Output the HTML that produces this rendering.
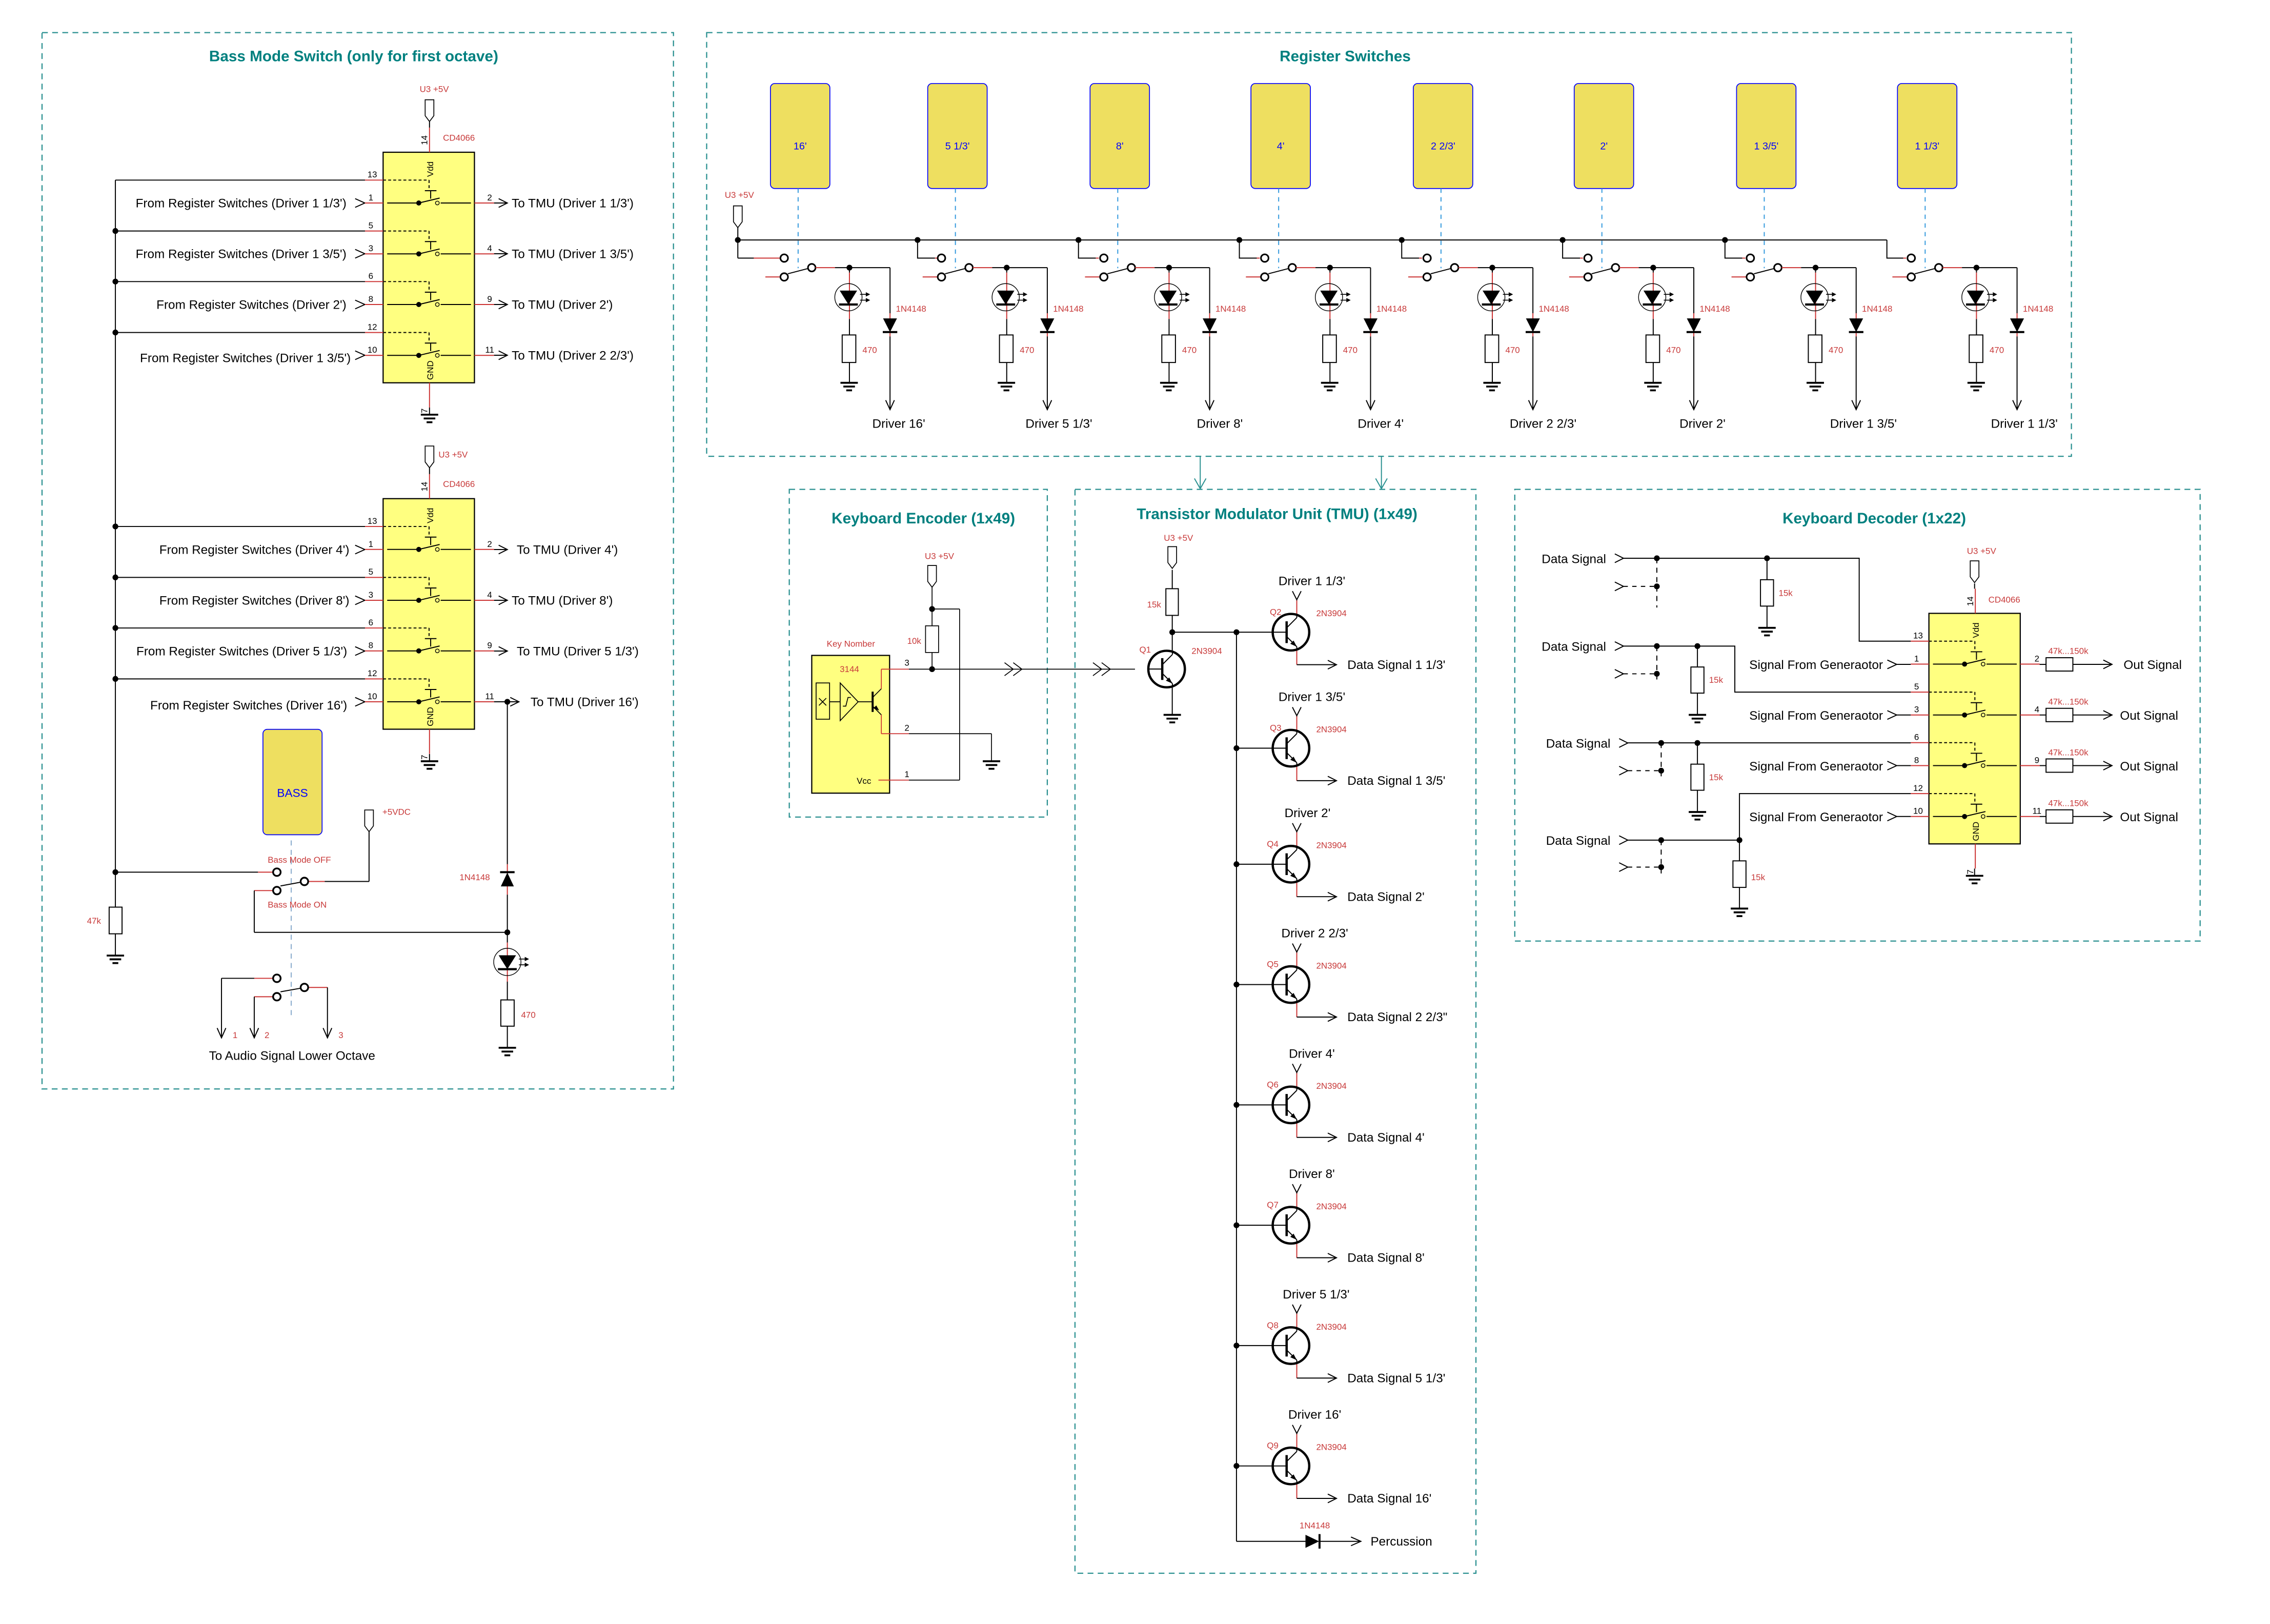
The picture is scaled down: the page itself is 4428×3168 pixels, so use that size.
<!DOCTYPE html>
<html><head><meta charset="utf-8"><style>
html,body{margin:0;padding:0;background:#fff}
svg{display:block}
text{font-family:"Liberation Sans",sans-serif}
.r{stroke:#cc3333}
.red{fill:#c83a3a}
.ttl{fill:#00807f;font-weight:bold;font-size:10.5px}
.lb{font-size:8.6px;fill:#000}
.sm{font-size:6px;fill:#c83a3a}
.pn{font-size:6px;fill:#000}
.box{fill:none;stroke:#2a9090;stroke-width:.8;stroke-dasharray:4,3}
</style></head><body>
<svg width="4428" height="3168" viewBox="0 0 1566 1120" preserveAspectRatio="none" xmlns="http://www.w3.org/2000/svg">
<defs>
<g id="gnd" stroke="#000" stroke-width="1.3"><line x1="-6" y1="0" x2="6" y2="0"/><line x1="-4" y1="2.6" x2="4" y2="2.6"/><line x1="-2" y1="5.2" x2="2" y2="5.2"/></g>
<path id="vcc" d="M-3,0H3V11L0,15L-3,11Z" fill="#fff" stroke="#000" stroke-width=".6"/>
<circle id="dot" r="2" fill="#000"/>
<g id="sw" stroke="#000" stroke-width=".7" fill="none">
 <line x1="0" y1="0" x2="31.7" y2="0" stroke-dasharray="2,1.5"/>
 <line x1="31.7" y1="0" x2="31.7" y2="7.3" stroke-dasharray="2,1.5"/>
 <line x1="28.8" y1="7.3" x2="36.8" y2="7.3"/>
 <line x1="32.8" y1="7.3" x2="32.8" y2="12.8"/>
 <line x1="2.8" y1="15.8" x2="24.6" y2="15.8"/>
 <circle cx="24.6" cy="15.8" r="1.4" fill="#000"/>
 <line x1="24.6" y1="15.8" x2="39" y2="12.4"/>
 <circle cx="37.4" cy="15.8" r="1.3" stroke-width=".5"/>
 <line x1="39.7" y1="15.8" x2="60.6" y2="15.8"/>
 <line class="r" x1="-12.5" y1="0" x2="0" y2="0"/>
 <line class="r" x1="-12.5" y1="15.8" x2="0" y2="15.8"/>
 <line class="r" x1="63" y1="15.8" x2="76.5" y2="15.8"/>
</g>
<g id="chip">
 <rect x="0" y="0" width="63" height="159" fill="#ffff80" stroke="#000" stroke-width=".8"/>
 <line class="r" x1="32" y1="-17" x2="32" y2="0" stroke-width=".7"/>
 <line class="r" x1="32" y1="159" x2="32" y2="176" stroke-width=".7"/>
 <use href="#sw" y="19.2"/><use href="#sw" y="54.3"/><use href="#sw" y="89.2"/><use href="#sw" y="124.3"/>
</g>
<g id="q" stroke="#000" fill="none">
 <circle r="12.6" stroke-width="1.6"/>
 <line x1="-3" y1="-7.5" x2="-3" y2="7.5" stroke-width="1.6"/>
 <line x1="-3" y1="-3" x2="4" y2="-10" stroke-width=".7"/>
 <line x1="-3" y1="3" x2="4" y2="10" stroke-width=".7"/>
 <polygon points="4,10 -0.5,8 1.8,5.8" fill="#000" stroke="none"/>
 <line x1="-12.6" y1="0" x2="-3" y2="0" stroke-width=".7"/>
 <line x1="4" y1="-10" x2="4" y2="-12.6" stroke-width=".7"/>
 <line x1="4" y1="10" x2="4" y2="12.6" stroke-width=".7"/>
</g>
<g id="led">
 <circle r="9.4" fill="none" stroke="#000" stroke-width=".5"/>
 <polygon points="-6,-4.6 6,-4.6 0,5" fill="#000"/>
 <line x1="-6.5" y1="5" x2="6.5" y2="5" stroke="#000" stroke-width="1.5"/>
 <g stroke="#000" stroke-width=".6"><line x1="8" y1="-2" x2="13" y2="-2"/><line x1="8" y1="2" x2="13" y2="2"/></g>
 <polygon points="12,-3.5 15,-2 12,-0.5" fill="#000"/><polygon points="12,0.5 15,2 12,3.5" fill="#000"/>
</g>
<g id="ru" stroke="#000" stroke-width=".7" fill="none">
 <rect x="531.5" y="57.6" width="41" height="72.4" rx="3" fill="#eedf60" stroke="#0000ff" stroke-width=".6"/>
 <line x1="550.6" y1="130" x2="550.6" y2="185" stroke="#3399dd" stroke-dasharray="3,3"/>
 <line class="r" x1="528" y1="191" x2="538.5" y2="191"/>
 <circle cx="541" cy="178" r="2.6" fill="#fff" stroke-width="1.1"/>
 <circle cx="541" cy="191" r="2.6" fill="#fff" stroke-width="1.1"/>
 <circle cx="560" cy="184.6" r="2.6" fill="#fff" stroke-width="1.1"/>
 <line x1="543.5" y1="188.8" x2="557.4" y2="185.2"/>
 <line class="r" x1="562.6" y1="184.6" x2="576" y2="184.6"/>
 <line x1="576" y1="184.6" x2="614" y2="184.6"/>
 <circle cx="586" cy="184.6" r="2" fill="#000" stroke="none"/>
 <line x1="614" y1="184.6" x2="614" y2="216"/>
 <line class="r" x1="614" y1="216" x2="614" y2="232"/>
 <line x1="614" y1="232" x2="614" y2="282.5"/>
 <polyline points="611,276 614,282.5 617,276"/>
 <polygon points="609.2,219.6 618.8,219.6 614,229" fill="#000" stroke="none"/>
 <line x1="609" y1="229" x2="619" y2="229" stroke-width="1.4"/>
 <line x1="586" y1="184.6" x2="586" y2="188"/>
 <line class="r" x1="586" y1="188" x2="586" y2="220"/>
 <line x1="586" y1="220" x2="586" y2="231"/>
 <rect x="581" y="231" width="9.4" height="19" fill="#fff"/>
 <line x1="586" y1="250" x2="586" y2="264"/>
</g>
</defs>

<!-- section boxes -->
<rect class="box" x="29" y="22.5" width="435.6" height="728.5"/>
<rect class="box" x="487.5" y="22.5" width="941.5" height="292.2"/>
<rect class="box" x="544.5" y="337.5" width="178" height="226"/>
<rect class="box" x="741.6" y="337.5" width="276.6" height="747.5"/>
<rect class="box" x="1045" y="337.5" width="472.8" height="311.5"/>
<g stroke="#2a9090" stroke-width=".7" fill="none">
<line x1="828" y1="315" x2="828" y2="337"/><polyline points="824,330 828,337 832,330"/>
<line x1="953" y1="315" x2="953" y2="337"/><polyline points="949,330 953,337 957,330"/>
</g>

<!-- titles -->
<text class="ttl" x="244" y="42.3" text-anchor="middle">Bass Mode Switch (only for first octave)</text>
<text class="ttl" x="928" y="42.3" text-anchor="middle">Register Switches</text>
<text class="ttl" x="637" y="361" text-anchor="middle">Keyboard Encoder (1x49)</text>
<text class="ttl" x="881" y="358" text-anchor="middle">Transistor Modulator Unit (TMU) (1x49)</text>
<text class="ttl" x="1293" y="361" text-anchor="middle">Keyboard Decoder (1x22)</text>

<!-- ===== BASS SECTION ===== -->
<g stroke="#000" stroke-width=".7" fill="none">
 <line x1="79.6" y1="124.2" x2="79.6" y2="625.6"/>
 <line x1="79.6" y1="124.2" x2="251.8" y2="124.2"/>
 <line x1="79.6" y1="159.3" x2="251.8" y2="159.3"/>
 <line x1="79.6" y1="194.2" x2="251.8" y2="194.2"/>
 <line x1="79.6" y1="229.3" x2="251.8" y2="229.3"/>
 <line x1="79.6" y1="363.1" x2="251.8" y2="363.1"/>
 <line x1="79.6" y1="398.2" x2="251.8" y2="398.2"/>
 <line x1="79.6" y1="433.1" x2="251.8" y2="433.1"/>
 <line x1="79.6" y1="468.2" x2="251.8" y2="468.2"/>
 <polyline points="245,137 251.7,140 245,143"/>
 <polyline points="245,172 251.7,175 245,178"/>
 <polyline points="245,207 251.7,210 245,213"/>
 <polyline points="245,242 251.7,245 245,248"/>
 <polyline points="245,376 251.7,379 245,382"/>
 <polyline points="245,411 251.7,414 245,417"/>
 <polyline points="245,446 251.7,449 245,452"/>
 <polyline points="245,481 251.7,484 245,487"/>
 <line x1="340.8" y1="140" x2="350" y2="140"/><polyline points="344,137 350,140 344,143"/>
 <line x1="340.8" y1="175" x2="350" y2="175"/><polyline points="344,172 350,175 344,178"/>
 <line x1="340.8" y1="210" x2="350" y2="210"/><polyline points="344,207 350,210 344,213"/>
 <line x1="340.8" y1="245" x2="350" y2="245"/><polyline points="344,242 350,245 344,248"/>
 <line x1="340.8" y1="379" x2="350" y2="379"/><polyline points="344,376 350,379 344,382"/>
 <line x1="340.8" y1="414" x2="350" y2="414"/><polyline points="344,411 350,414 344,417"/>
 <line x1="340.8" y1="449" x2="350" y2="449"/><polyline points="344,446 350,449 344,452"/>
 <line x1="340.8" y1="484" x2="358" y2="484"/><polyline points="352,481 358,484 352,487"/>
 <line x1="296.3" y1="84" x2="296.3" y2="88"/>
 <line x1="296.3" y1="281" x2="296.3" y2="286"/>
 <line x1="296.3" y1="322.6" x2="296.3" y2="327"/>
 <line x1="296.3" y1="520" x2="296.3" y2="525"/>
 <line x1="350" y1="484" x2="350" y2="596"/>
 <line class="r" x1="350" y1="596" x2="350" y2="617"/>
 <line x1="350" y1="617" x2="350" y2="650"/>
 <line class="r" x1="350" y1="650" x2="350" y2="677"/>
 <line x1="350" y1="677" x2="350" y2="689.6"/>
 <rect x="345.5" y="689.6" width="9.2" height="18.1" fill="#fff"/>
 <line x1="350" y1="707.7" x2="350" y2="722.6"/>
 <rect x="75.3" y="625.6" width="8.9" height="18.4" fill="#fff"/>
 <line x1="79.6" y1="644" x2="79.6" y2="659"/>
 <line x1="79.6" y1="601.5" x2="178" y2="601.5"/>
 <line class="r" x1="178" y1="601.5" x2="188.4" y2="601.5"/>
 <line class="r" x1="175.4" y1="614.2" x2="188.4" y2="614.2"/>
 <line x1="175.4" y1="614.2" x2="175.4" y2="643"/>
 <line x1="175.4" y1="643" x2="350" y2="643"/>
 <line x1="193.5" y1="611" x2="207.5" y2="608.4"/>
 <line class="r" x1="212.6" y1="607.9" x2="224" y2="607.9"/>
 <line x1="224" y1="607.9" x2="254.6" y2="607.9"/>
 <line x1="254.6" y1="607.9" x2="254.6" y2="573.7"/>
 <circle cx="191" cy="601.5" r="2.6" fill="#fff" stroke-width="1.2"/>
 <circle cx="191" cy="614.2" r="2.6" fill="#fff" stroke-width="1.2"/>
 <circle cx="210" cy="607.9" r="2.6" fill="#fff" stroke-width="1.2"/>
 <line class="r" x1="175.4" y1="674.7" x2="188.4" y2="674.7"/>
 <line x1="152.8" y1="674.7" x2="175.4" y2="674.7"/>
 <line x1="152.8" y1="674.7" x2="152.8" y2="715.7"/>
 <polyline points="149.8,709 152.8,715.7 155.8,709"/>
 <line class="r" x1="175.4" y1="687.4" x2="188.4" y2="687.4"/>
 <line x1="175.4" y1="687.4" x2="175.4" y2="715.7"/>
 <polyline points="172.4,709 175.4,715.7 178.4,709"/>
 <line x1="193.5" y1="684" x2="207.5" y2="681.5"/>
 <line class="r" x1="212.6" y1="681" x2="225.9" y2="681"/>
 <line x1="225.9" y1="681" x2="225.9" y2="715.7"/>
 <polyline points="222.9,709 225.9,715.7 228.9,709"/>
 <circle cx="191" cy="674.7" r="2.6" fill="#fff" stroke-width="1.2"/>
 <circle cx="191" cy="687.4" r="2.6" fill="#fff" stroke-width="1.2"/>
 <circle cx="210" cy="681" r="2.6" fill="#fff" stroke-width="1.2"/>
 <line x1="200.9" y1="579.6" x2="200.9" y2="703" stroke="#88aacc" stroke-dasharray="3.5,3"/>
</g>
<rect x="181.4" y="503" width="40.8" height="72.7" rx="3" fill="#eedf60" stroke="#0000ff" stroke-width=".6"/>
<text x="201.8" y="549.5" text-anchor="middle" style="font-size:8px;fill:#0000ff">BASS</text>
<use href="#vcc" x="254.6" y="558.6"/>
<text class="sm" x="263.8" y="562">+5VDC</text>
<text class="sm" x="184.7" y="595">Bass Mode OFF</text>
<text class="sm" x="184.7" y="626">Bass Mode ON</text>
<text class="sm" x="160.5" y="716">1</text>
<text class="sm" x="182.5" y="716">2</text>
<text class="sm" x="233.5" y="716">3</text>
<text class="lb" x="201.5" y="731" text-anchor="middle">To Audio Signal Lower Octave</text>
<use href="#dot" x="79.6" y="159.3"/><use href="#dot" x="79.6" y="194.2"/><use href="#dot" x="79.6" y="229.3"/>
<use href="#dot" x="79.6" y="363.1"/><use href="#dot" x="79.6" y="398.2"/><use href="#dot" x="79.6" y="433.1"/><use href="#dot" x="79.6" y="468.2"/>
<use href="#dot" x="79.6" y="601.5"/><use href="#dot" x="350" y="484"/><use href="#dot" x="350" y="643"/>
<use href="#gnd" x="79.6" y="659"/><use href="#gnd" x="350" y="722.6"/>
<use href="#gnd" x="296.3" y="286"/><use href="#gnd" x="296.3" y="525"/>
<polygon points="345.5,611.3 354.5,611.3 350,601.8" fill="#000"/>
<line x1="345" y1="601.5" x2="355" y2="601.5" stroke="#000" stroke-width="1.4"/>
<text class="sm" x="338" y="607" text-anchor="end">1N4148</text>
<use href="#led" x="350" y="663.4"/>
<text class="sm" x="359.5" y="702">470</text>
<text class="sm" x="60" y="637">47k</text>

<!-- chip 1 -->
<use href="#vcc" x="296.3" y="68.8"/>
<text class="sm" x="289.5" y="63.5">U3 +5V</text>
<g transform="translate(264.3,105)">
 <use href="#chip"/>
 <text class="sm" x="41.3" y="-8">CD4066</text>
 <text class="pn" transform="translate(30.5,-5) rotate(-90)">14</text>
 <text class="pn" transform="translate(34.5,17) rotate(-90)">Vdd</text>
 <text class="pn" transform="translate(34.5,157) rotate(-90)">GND</text>
 <text class="pn" transform="translate(30.5,180) rotate(-90)">7</text>
 <text class="pn" x="-7.5" y="17.4" text-anchor="middle">13</text>
 <text class="pn" x="-8.5" y="33.3" text-anchor="middle">1</text>
 <text class="pn" x="-8.5" y="52.5" text-anchor="middle">5</text>
 <text class="pn" x="-8.5" y="68.3" text-anchor="middle">3</text>
 <text class="pn" x="-8.5" y="87.4" text-anchor="middle">6</text>
 <text class="pn" x="-8.5" y="103.2" text-anchor="middle">8</text>
 <text class="pn" x="-7.5" y="122.5" text-anchor="middle">12</text>
 <text class="pn" x="-7.5" y="138.3" text-anchor="middle">10</text>
 <text class="pn" x="73.5" y="33.3" text-anchor="middle">2</text>
 <text class="pn" x="73.5" y="68.3" text-anchor="middle">4</text>
 <text class="pn" x="73.5" y="103.2" text-anchor="middle">9</text>
 <text class="pn" x="73.5" y="138.3" text-anchor="middle">11</text>
</g>
<text class="lb" x="239" y="143" text-anchor="end">From Register Switches (Driver 1 1/3')</text>
<text class="lb" x="239" y="178" text-anchor="end">From Register Switches (Driver 1 3/5')</text>
<text class="lb" x="239" y="213" text-anchor="end">From Register Switches (Driver 2')</text>
<text class="lb" x="242" y="249.8" text-anchor="end">From Register Switches (Driver 1 3/5')</text>
<text class="lb" x="353" y="143">To TMU (Driver 1 1/3')</text>
<text class="lb" x="353" y="178">To TMU (Driver 1 3/5')</text>
<text class="lb" x="353" y="213">To TMU (Driver 2')</text>
<text class="lb" x="353" y="248">To TMU (Driver 2 2/3')</text>

<!-- chip 2 -->
<use href="#vcc" x="296.3" y="307.6"/>
<text class="sm" x="302.5" y="315.5">U3 +5V</text>
<g transform="translate(264.3,343.9)">
 <use href="#chip"/>
 <text class="sm" x="41.3" y="-8">CD4066</text>
 <text class="pn" transform="translate(30.5,-5) rotate(-90)">14</text>
 <text class="pn" transform="translate(34.5,17) rotate(-90)">Vdd</text>
 <text class="pn" transform="translate(34.5,157) rotate(-90)">GND</text>
 <text class="pn" transform="translate(30.5,180) rotate(-90)">7</text>
 <text class="pn" x="-7.5" y="17.4" text-anchor="middle">13</text>
 <text class="pn" x="-8.5" y="33.3" text-anchor="middle">1</text>
 <text class="pn" x="-8.5" y="52.5" text-anchor="middle">5</text>
 <text class="pn" x="-8.5" y="68.3" text-anchor="middle">3</text>
 <text class="pn" x="-8.5" y="87.4" text-anchor="middle">6</text>
 <text class="pn" x="-8.5" y="103.2" text-anchor="middle">8</text>
 <text class="pn" x="-7.5" y="122.5" text-anchor="middle">12</text>
 <text class="pn" x="-7.5" y="138.3" text-anchor="middle">10</text>
 <text class="pn" x="73.5" y="33.3" text-anchor="middle">2</text>
 <text class="pn" x="73.5" y="68.3" text-anchor="middle">4</text>
 <text class="pn" x="73.5" y="103.2" text-anchor="middle">9</text>
 <text class="pn" x="73.5" y="138.3" text-anchor="middle">11</text>
</g>
<text class="lb" x="241" y="382" text-anchor="end">From Register Switches (Driver 4')</text>
<text class="lb" x="241" y="417" text-anchor="end">From Register Switches (Driver 8')</text>
<text class="lb" x="239.5" y="452" text-anchor="end">From Register Switches (Driver 5 1/3')</text>
<text class="lb" x="239.5" y="489.3" text-anchor="end">From Register Switches (Driver 16')</text>
<text class="lb" x="356.5" y="382">To TMU (Driver 4')</text>
<text class="lb" x="353" y="417">To TMU (Driver 8')</text>
<text class="lb" x="356.5" y="452">To TMU (Driver 5 1/3')</text>
<text class="lb" x="366" y="487">To TMU (Driver 16')</text>

<!-- ===== REGISTER SWITCHES ===== -->
<g stroke="#000" stroke-width=".7" fill="none">
 <line x1="509" y1="157" x2="509" y2="178"/>
 <line x1="509" y1="165.5" x2="1301.7" y2="165.5"/>
 <line x1="509" y1="178" x2="528" y2="178"/>
 <line class="r" x1="520" y1="178" x2="538.5" y2="178"/>
 <path d="M633,165.5V178H645M744,165.5V178H756M855,165.5V178H867M967,165.5V178H979M1078,165.5V178H1090M1190,165.5V178H1202M1301.7,165.5V178H1313"/>
 <g class="r"><line x1="645" y1="178" x2="647" y2="178"/><line x1="756" y1="178" x2="758" y2="178"/><line x1="867" y1="178" x2="869" y2="178"/><line x1="979" y1="178" x2="981" y2="178"/><line x1="1090" y1="178" x2="1092" y2="178"/><line x1="1202" y1="178" x2="1204" y2="178"/><line x1="1313" y1="178" x2="1315" y2="178"/></g>
</g>
<use href="#vcc" x="509" y="142"/>
<text class="sm" x="500" y="136.5">U3 +5V</text>
<use href="#dot" x="509" y="165.5"/><use href="#dot" x="633" y="165.5"/><use href="#dot" x="744" y="165.5"/><use href="#dot" x="855" y="165.5"/><use href="#dot" x="967" y="165.5"/><use href="#dot" x="1078" y="165.5"/><use href="#dot" x="1190" y="165.5"/>
<g><use href="#ru"/><use href="#led" x="585.3" y="205"/><use href="#gnd" x="585.8" y="264"/>
<text x="552" y="103" text-anchor="middle" style="font-size:7px;fill:#0000ff">16'</text>
<text class="sm" x="618" y="215">1N4148</text><text class="sm" x="595" y="243.5">470</text>
<text class="lb" x="620" y="295" text-anchor="middle">Driver 16'</text></g>
<g transform="translate(108.5,0)"><use href="#ru"/><use href="#led" x="585.3" y="205"/><use href="#gnd" x="585.8" y="264"/>
<text x="552" y="103" text-anchor="middle" style="font-size:7px;fill:#0000ff">5 1/3'</text>
<text class="sm" x="618" y="215">1N4148</text><text class="sm" x="595" y="243.5">470</text>
<text class="lb" x="622" y="295" text-anchor="middle">Driver 5 1/3'</text></g>
<g transform="translate(220.5,0)"><use href="#ru"/><use href="#led" x="585.3" y="205"/><use href="#gnd" x="585.8" y="264"/>
<text x="552" y="103" text-anchor="middle" style="font-size:7px;fill:#0000ff">8'</text>
<text class="sm" x="618" y="215">1N4148</text><text class="sm" x="595" y="243.5">470</text>
<text class="lb" x="621" y="295" text-anchor="middle">Driver 8'</text></g>
<g transform="translate(331.5,0)"><use href="#ru"/><use href="#led" x="585.3" y="205"/><use href="#gnd" x="585.8" y="264"/>
<text x="552" y="103" text-anchor="middle" style="font-size:7px;fill:#0000ff">4'</text>
<text class="sm" x="618" y="215">1N4148</text><text class="sm" x="595" y="243.5">470</text>
<text class="lb" x="621" y="295" text-anchor="middle">Driver 4'</text></g>
<g transform="translate(443.5,0)"><use href="#ru"/><use href="#led" x="585.3" y="205"/><use href="#gnd" x="585.8" y="264"/>
<text x="552" y="103" text-anchor="middle" style="font-size:7px;fill:#0000ff">2 2/3'</text>
<text class="sm" x="618" y="215">1N4148</text><text class="sm" x="595" y="243.5">470</text>
<text class="lb" x="621" y="295" text-anchor="middle">Driver 2 2/3'</text></g>
<g transform="translate(554.5,0)"><use href="#ru"/><use href="#led" x="585.3" y="205"/><use href="#gnd" x="585.8" y="264"/>
<text x="552" y="103" text-anchor="middle" style="font-size:7px;fill:#0000ff">2'</text>
<text class="sm" x="618" y="215">1N4148</text><text class="sm" x="595" y="243.5">470</text>
<text class="lb" x="620" y="295" text-anchor="middle">Driver 2'</text></g>
<g transform="translate(666.5,0)"><use href="#ru"/><use href="#led" x="585.3" y="205"/><use href="#gnd" x="585.8" y="264"/>
<text x="552" y="103" text-anchor="middle" style="font-size:7px;fill:#0000ff">1 3/5'</text>
<text class="sm" x="618" y="215">1N4148</text><text class="sm" x="595" y="243.5">470</text>
<text class="lb" x="619" y="295" text-anchor="middle">Driver 1 3/5'</text></g>
<g transform="translate(777.5,0)"><use href="#ru"/><use href="#led" x="585.3" y="205"/><use href="#gnd" x="585.8" y="264"/>
<text x="552" y="103" text-anchor="middle" style="font-size:7px;fill:#0000ff">1 1/3'</text>
<text class="sm" x="618" y="215">1N4148</text><text class="sm" x="595" y="243.5">470</text>
<text class="lb" x="619" y="295" text-anchor="middle">Driver 1 1/3'</text></g>

<!-- ===== KEYBOARD ENCODER ===== -->
<rect x="560" y="452" width="53.7" height="95" fill="#ffff80" stroke="#000" stroke-width=".8"/>
<text class="sm" x="587" y="446" text-anchor="middle">Key Nomber</text>
<text class="sm" x="586" y="463.5" text-anchor="middle">3144</text>
<g stroke="#000" stroke-width=".6" fill="none">
 <rect x="563" y="471" width="9.3" height="25"/>
 <line x1="565" y1="481.5" x2="570" y2="486.5"/><line x1="570" y1="481.5" x2="565" y2="486.5"/>
 <line x1="572.3" y1="484" x2="579.6" y2="484"/>
 <polygon points="579.6,471 579.6,497 592,484"/>
 <path d="M581.5,487H583.5L585,481H587"/>
 <line x1="592" y1="484" x2="602" y2="484"/>
 <line x1="602" y1="477" x2="602" y2="491" stroke-width="1.4"/>
 <line x1="602" y1="481" x2="608" y2="475"/>
 <line x1="602" y1="487" x2="608" y2="493"/>
 <line class="r" x1="608" y1="475" x2="608" y2="461.5"/>
 <line class="r" x1="608" y1="493" x2="608" y2="506"/>
 <line class="r" x1="608" y1="461.5" x2="627" y2="461.5"/>
 <line class="r" x1="608" y1="506" x2="627" y2="506"/>
 <line class="r" x1="606" y1="538" x2="627" y2="538"/>
 <line x1="627" y1="461.5" x2="783" y2="461.5"/>
 <polyline points="693,457 699,461.5 693,466"/><polyline points="699,457 705,461.5 699,466"/>
 <polyline points="754,457 760,461.5 754,466"/><polyline points="760,457 766,461.5 760,466"/>
 <line x1="627" y1="506" x2="684" y2="506"/><line x1="684" y1="506" x2="684" y2="525"/>
 <line x1="627" y1="538" x2="662" y2="538"/><line x1="662" y1="538" x2="662" y2="420"/><line x1="662" y1="420" x2="643" y2="420"/>
 <line x1="643" y1="405" x2="643" y2="431.6"/>
 <rect x="638.5" y="431.6" width="9" height="18.4" fill="#fff"/>
 <line x1="643" y1="450" x2="643" y2="461.5"/>
</g>
<polygon points="606.5,490 602.5,488.5 604.5,486.5" fill="#000"/>
<text class="pn" x="624" y="459">3</text><text class="pn" x="624" y="504">2</text><text class="pn" x="624" y="536">1</text>
<text class="pn" x="596" y="540.5" text-anchor="middle">Vcc</text>
<use href="#vcc" x="643" y="390"/>
<text class="sm" x="638" y="385.5">U3 +5V</text>
<text class="sm" x="635.5" y="444" text-anchor="end">10k</text>
<use href="#dot" x="643" y="420"/><use href="#dot" x="643" y="461.5"/>
<use href="#gnd" x="684" y="525"/>

<!-- ===== TMU ===== -->
<g stroke="#000" stroke-width=".7" fill="none">
 <line x1="808.7" y1="393" x2="808.7" y2="406"/>
 <rect x="804.3" y="406" width="8.6" height="18.4" fill="#fff"/>
 <line x1="808.7" y1="424.4" x2="808.7" y2="448.8"/>
 <line x1="808.7" y1="474" x2="808.7" y2="493"/>
 <line x1="808.7" y1="436" x2="878" y2="436"/>
 <line x1="853" y1="436" x2="853" y2="1063"/>
 <line x1="853" y1="1063" x2="900.6" y2="1063"/>
 <line x1="910.5" y1="1063" x2="938.8" y2="1063"/>
 <polyline points="932,1060 938.8,1063 932,1066"/>
</g>
<polygon points="900.6,1058.5 900.6,1067.5 910,1063" fill="#000"/>
<line x1="910.3" y1="1058" x2="910.3" y2="1068" stroke="#000" stroke-width="1.4"/>
<text class="sm" x="907" y="1054" text-anchor="middle">1N4148</text>
<text class="lb" x="945.5" y="1066">Percussion</text>
<use href="#vcc" x="808.7" y="377"/>
<text class="sm" x="813" y="373" text-anchor="middle">U3 +5V</text>
<text class="sm" x="801" y="419" text-anchor="end">15k</text>
<use href="#q" x="804.8" y="461.4"/>
<text class="sm" x="790" y="450" text-anchor="middle">Q1</text>
<text class="sm" x="822" y="451">2N3904</text>
<use href="#gnd" x="808.7" y="493"/>
<use href="#dot" x="808.7" y="436"/>

<g stroke="#000" stroke-width=".7" fill="none">
<path d="M853,516H878M853,596H878M853,679H878M853,762H878M853,845H878M853,928H878M853,1011H878"/>
<path class="r" d="M894.6,413.6V423.4M894.6,448.6V458.4M894.6,493.6V503.4M894.6,528.6V538.4M894.6,573.6V583.4M894.6,608.6V618.4M894.6,656.6V666.4M894.6,691.6V701.4M894.6,739.6V749.4M894.6,774.6V784.4M894.6,822.6V832.4M894.6,857.6V867.4M894.6,905.6V915.4M894.6,940.6V950.4M894.6,988.6V998.4M894.6,1023.6V1033.4"/>
<path d="M891.6,407.7L894.6,413.6L897.6,407.7M891.6,487.7L894.6,493.6L897.6,487.7M891.6,567.7L894.6,573.6L897.6,567.7M891.6,650.7L894.6,656.6L897.6,650.7M891.6,733.7L894.6,739.6L897.6,733.7M891.6,816.7L894.6,822.6L897.6,816.7M891.6,899.7L894.6,905.6L897.6,899.7M891.6,982.7L894.6,988.6L897.6,982.7"/>
<path d="M894.6,458.4H922M894.6,538.4H922M894.6,618.4H922M894.6,701.4H922M894.6,784.4H922M894.6,867.4H922M894.6,950.4H922M894.6,1033.4H922"/>
<path d="M916,455.4L922,458.4L916,461.4M916,535.4L922,538.4L916,541.4M916,615.4L922,618.4L916,621.4M916,698.4L922,701.4L916,704.4M916,781.4L922,784.4L916,787.4M916,864.4L922,867.4L916,870.4M916,947.4L922,950.4L916,953.4M916,1030.4L922,1033.4L916,1036.4"/>
</g>
<use href="#q" x="890.6" y="436"/><use href="#q" x="890.6" y="516"/><use href="#q" x="890.6" y="596"/><use href="#q" x="890.6" y="679"/>
<use href="#q" x="890.6" y="762"/><use href="#q" x="890.6" y="845"/><use href="#q" x="890.6" y="928"/><use href="#q" x="890.6" y="1011"/>
<use href="#dot" x="853" y="436"/><use href="#dot" x="853" y="516"/><use href="#dot" x="853" y="596"/><use href="#dot" x="853" y="679"/>
<use href="#dot" x="853" y="762"/><use href="#dot" x="853" y="845"/><use href="#dot" x="853" y="928"/><use href="#dot" x="853" y="1011"/>
<g class="lb">
<text x="905" y="403.5" text-anchor="middle">Driver 1 1/3'</text><text x="929.5" y="461.3">Data Signal 1 1/3'</text>
<text x="905" y="483.5" text-anchor="middle">Driver 1 3/5'</text><text x="929.5" y="541.3">Data Signal 1 3/5'</text>
<text x="902" y="563.5" text-anchor="middle">Driver 2'</text><text x="929.5" y="621.3">Data Signal 2'</text>
<text x="907" y="646.5" text-anchor="middle">Driver 2 2/3'</text><text x="929.5" y="704.3">Data Signal 2 2/3"</text>
<text x="905" y="729.5" text-anchor="middle">Driver 4'</text><text x="929.5" y="787.3">Data Signal 4'</text>
<text x="905" y="812.5" text-anchor="middle">Driver 8'</text><text x="929.5" y="870.3">Data Signal 8'</text>
<text x="908" y="895.5" text-anchor="middle">Driver 5 1/3'</text><text x="929.5" y="953.3">Data Signal 5 1/3'</text>
<text x="907" y="978.5" text-anchor="middle">Driver 16'</text><text x="929.5" y="1036.3">Data Signal 16'</text>
</g>
<g class="sm">
<text x="880" y="424" text-anchor="middle">Q2</text><text x="908" y="425">2N3904</text>
<text x="880" y="504" text-anchor="middle">Q3</text><text x="908" y="505">2N3904</text>
<text x="878" y="584" text-anchor="middle">Q4</text><text x="908" y="585">2N3904</text>
<text x="878" y="667" text-anchor="middle">Q5</text><text x="908" y="668">2N3904</text>
<text x="878" y="750" text-anchor="middle">Q6</text><text x="908" y="751">2N3904</text>
<text x="878" y="833" text-anchor="middle">Q7</text><text x="908" y="834">2N3904</text>
<text x="878" y="916" text-anchor="middle">Q8</text><text x="908" y="917">2N3904</text>
<text x="878" y="999" text-anchor="middle">Q9</text><text x="908" y="1000">2N3904</text>
</g>

<!-- ===== KEYBOARD DECODER ===== -->
<g stroke="#000" stroke-width=".7" fill="none">
 <polyline points="1114,382 1120,385 1114,388"/>
 <path d="M1120,385H1282.6V442.2H1318.2"/>
 <line x1="1219" y1="385" x2="1219" y2="399.8"/>
 <rect x="1214.5" y="399.8" width="9" height="18.2" fill="#fff"/>
 <line x1="1219" y1="418" x2="1219" y2="433"/>
 <polyline points="1114,401.4 1120,404.4 1114,407.4"/>
 <line x1="1120" y1="404.4" x2="1143" y2="404.4" stroke-dasharray="3,3"/>
 <line x1="1143" y1="385" x2="1143" y2="419" stroke-dasharray="3.5,3"/>
 <polyline points="1114,442.6 1120,445.6 1114,448.6"/>
 <path d="M1120,445.6H1196.8V477.3H1318.2"/>
 <line x1="1171" y1="445.6" x2="1171" y2="460"/>
 <rect x="1166.5" y="460" width="9" height="18" fill="#fff"/>
 <line x1="1171" y1="478" x2="1171" y2="493"/>
 <polyline points="1114,461.7 1120,464.7 1114,467.7"/>
 <line x1="1120" y1="464.7" x2="1143" y2="464.7" stroke-dasharray="3,3"/>
 <line x1="1143" y1="445.6" x2="1143" y2="469" stroke-dasharray="3.5,3"/>
 <polyline points="1117,509.4 1123,512.4 1117,515.4"/>
 <path d="M1123,512.3H1318.2"/>
 <line x1="1171" y1="512.4" x2="1171" y2="527"/>
 <rect x="1166.5" y="527" width="9" height="18" fill="#fff"/>
 <line x1="1171" y1="545" x2="1171" y2="560"/>
 <polyline points="1117,528.5 1123,531.5 1117,534.5"/>
 <line x1="1123" y1="531.5" x2="1146" y2="531.5" stroke-dasharray="3,3"/>
 <line x1="1146" y1="512.4" x2="1146" y2="536" stroke-dasharray="3.5,3"/>
 <polyline points="1117,576.4 1123,579.4 1117,582.4"/>
 <path d="M1123,579.4H1200V547.3H1318.2"/>
 <line x1="1200" y1="579.4" x2="1200" y2="593.7"/>
 <rect x="1195.5" y="593.7" width="9" height="18.3" fill="#fff"/>
 <line x1="1200" y1="612" x2="1200" y2="626.6"/>
 <polyline points="1117,595 1123,598 1117,601"/>
 <line x1="1123" y1="598" x2="1146" y2="598" stroke-dasharray="3,3"/>
 <line x1="1146" y1="579.4" x2="1146" y2="603" stroke-dasharray="3.5,3"/>
 <polyline points="1302,455.2 1308.5,458.2 1302,461.2"/><line x1="1308.5" y1="458.2" x2="1318.2" y2="458.2"/>
 <polyline points="1302,490.1 1308.5,493.1 1302,496.1"/><line x1="1308.5" y1="493.1" x2="1318.2" y2="493.1"/>
 <polyline points="1302,525 1308.5,528 1302,531"/><line x1="1308.5" y1="528" x2="1318.2" y2="528"/>
 <polyline points="1302,560.1 1308.5,563.1 1302,566.1"/><line x1="1308.5" y1="563.1" x2="1318.2" y2="563.1"/>
 <g id="outA"><line x1="1407" y1="458.2" x2="1411.5" y2="458.2"/><rect x="1411.5" y="453.6" width="18.5" height="9.2" fill="#fff"/><line x1="1430" y1="458.2" x2="1457" y2="458.2"/><polyline points="1451,455.2 1457,458.2 1451,461.2"/></g>
 <use href="#outA" y="34.9"/><use href="#outA" y="69.8"/><use href="#outA" y="104.9"/>
 <line x1="1362.2" y1="402.4" x2="1362.2" y2="406"/>
 <line x1="1362.2" y1="599" x2="1362.2" y2="604"/>
</g>
<use href="#dot" x="1143" y="385"/><use href="#dot" x="1219" y="385"/><use href="#dot" x="1143" y="404.4"/>
<use href="#dot" x="1143" y="445.6"/><use href="#dot" x="1171" y="445.6"/><use href="#dot" x="1143" y="464.7"/>
<use href="#dot" x="1146" y="512.4"/><use href="#dot" x="1171" y="512.4"/><use href="#dot" x="1146" y="531.5"/>
<use href="#dot" x="1146" y="579.4"/><use href="#dot" x="1200" y="579.4"/><use href="#dot" x="1146" y="598"/>
<use href="#gnd" x="1219" y="433"/><use href="#gnd" x="1171" y="493"/><use href="#gnd" x="1171" y="560"/><use href="#gnd" x="1200" y="626.6"/>
<use href="#gnd" x="1362.2" y="604"/>
<use href="#vcc" x="1362.2" y="386.8"/>
<text class="sm" x="1367" y="382" text-anchor="middle">U3 +5V</text>
<g transform="translate(1330.7,423)">
 <use href="#chip"/>
 <text class="sm" x="41" y="-7.5">CD4066</text>
 <text class="pn" transform="translate(30.5,-5) rotate(-90)">14</text>
 <text class="pn" transform="translate(34.5,17) rotate(-90)">Vdd</text>
 <text class="pn" transform="translate(34.5,157) rotate(-90)">GND</text>
 <text class="pn" transform="translate(30.5,180) rotate(-90)">7</text>
 <text class="pn" x="-7.5" y="17.4" text-anchor="middle">13</text>
 <text class="pn" x="-8.5" y="33.3" text-anchor="middle">1</text>
 <text class="pn" x="-8.5" y="52.5" text-anchor="middle">5</text>
 <text class="pn" x="-8.5" y="68.3" text-anchor="middle">3</text>
 <text class="pn" x="-8.5" y="87.4" text-anchor="middle">6</text>
 <text class="pn" x="-8.5" y="103.2" text-anchor="middle">8</text>
 <text class="pn" x="-7.5" y="122.5" text-anchor="middle">12</text>
 <text class="pn" x="-7.5" y="138.3" text-anchor="middle">10</text>
 <text class="pn" x="74.5" y="33.3" text-anchor="middle">2</text>
 <text class="pn" x="74.5" y="68.3" text-anchor="middle">4</text>
 <text class="pn" x="74.5" y="103.2" text-anchor="middle">9</text>
 <text class="pn" x="74.5" y="138.3" text-anchor="middle">11</text>
</g>
<g class="lb">
<text x="1108" y="388.3" text-anchor="end">Data Signal</text>
<text x="1108" y="448.9" text-anchor="end">Data Signal</text>
<text x="1111" y="515.7" text-anchor="end">Data Signal</text>
<text x="1111" y="582.7" text-anchor="end">Data Signal</text>
<text x="1299" y="461.3" text-anchor="end">Signal From Generaotor</text>
<text x="1299" y="496.3" text-anchor="end">Signal From Generaotor</text>
<text x="1299" y="531.3" text-anchor="end">Signal From Generaotor</text>
<text x="1299" y="566.3" text-anchor="end">Signal From Generaotor</text>
<text x="1465" y="461.3">Out Signal</text>
<text x="1462.5" y="496.3">Out Signal</text>
<text x="1462.5" y="531.3">Out Signal</text>
<text x="1462.5" y="566.3">Out Signal</text>
</g>
<g class="sm">
<text x="1227" y="411">15k</text><text x="1179" y="471">15k</text><text x="1179" y="538">15k</text><text x="1208" y="607">15k</text>
<text x="1413" y="451">47k...150k</text><text x="1413" y="486">47k...150k</text><text x="1413" y="521">47k...150k</text><text x="1413" y="556">47k...150k</text>
</g>
</svg>
</body></html>
